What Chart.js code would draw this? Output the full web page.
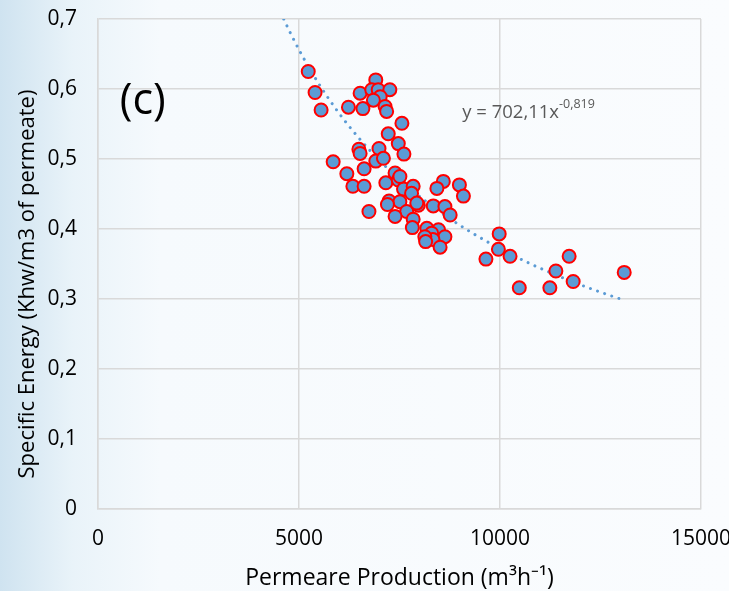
<!DOCTYPE html>
<html>
<head>
<meta charset="utf-8">
<script src="https://cdn.jsdelivr.net/npm/chart.js@4.4.0/dist/chart.umd.min.js"></script>
<style>
  html, body { margin: 0; padding: 0; }
  body {
    width: 729px; height: 591px; overflow: hidden;
    background: linear-gradient(to right, #cfe3f0 0%, #e9f3f9 10%, #f6fafd 22%, #fafcfe 100%);
  }
  #wrap { position: relative; width: 729px; height: 591px; }
</style>
</head>
<body>
<div id="wrap"><canvas id="myChart" width="729" height="591"></canvas></div>
<script>
// permeate production (m3/h)
const production = [5230, 5400, 5550, 6230, 6590, 6520, 6910, 6810, 6970, 7260,
  7020, 6850, 7140, 7180, 7560, 7220, 7470, 7610, 6490, 6520,
  6990, 6910, 7100, 5850, 6190, 6620, 6340, 6620, 6740, 7160,
  7390, 7470, 7600, 7840, 7800, 7240, 7510, 7970, 7680, 7390,
  7840, 7930, 8340, 8630, 8760, 8180, 8470, 8630, 8300, 8330,
  8130, 8510, 7820, 8590, 8430, 8990, 9090, 9980, 9960, 9650,
  10250, 10480, 11240, 11390, 11720, 11820, 13090, 7200, 7510, 8150];
// specific energy (kWh/m3)
const energy = [0.625, 0.595, 0.570, 0.574, 0.572, 0.594, 0.613, 0.599, 0.599, 0.599,
  0.589, 0.584, 0.575, 0.568, 0.551, 0.536, 0.522, 0.507, 0.514, 0.508,
  0.515, 0.497, 0.501, 0.496, 0.479, 0.486, 0.461, 0.461, 0.425, 0.466,
  0.480, 0.470, 0.457, 0.461, 0.451, 0.440, 0.439, 0.434, 0.425, 0.418,
  0.414, 0.437, 0.433, 0.432, 0.420, 0.401, 0.399, 0.389, 0.394, 0.385,
  0.389, 0.374, 0.402, 0.468, 0.458, 0.463, 0.447, 0.393, 0.371, 0.357,
  0.361, 0.316, 0.316, 0.340, 0.361, 0.325, 0.338, 0.435, 0.475, 0.382];
// power trend y = a * x^b, drawn between these x limits
const trendA = 702.11;
const trendB = -0.819;
const trendRange = [4620, 13090];
const xTicks = [0, 5000, 10000, 15000];
const yTicks = [0, 0.1, 0.2, 0.3, 0.4, 0.5, 0.6, 0.7];

const font = "'Open Sans', sans-serif";
const points = production.map((x, i) => ({x: x, y: energy[i]}));
const trend = [];
for (let k = 0; k <= 60; k++) {
  const x = trendRange[0] + (trendRange[1] - trendRange[0]) * k / 60;
  trend.push({x: x, y: trendA * Math.pow(x, trendB)});
}

// axis titles, panel letter and trend equation
const labels = {
  id: 'labels',
  afterDraw(chart) {
    const c = chart.ctx, xs = chart.scales.x, ys = chart.scales.y;
    const area = chart.chartArea;
    c.save();
    c.fillStyle = '#000';
    c.textAlign = 'center';
    c.textBaseline = 'middle';
    c.font = "23px " + font;
    c.fillText('Permeare Production (m³h⁻¹)', (area.left + area.right) / 2, chart.height - 13);
    c.save();
    c.translate(28, (area.top + area.bottom) / 2 + 20);
    c.rotate(-Math.PI / 2);
    c.font = "22px " + font;
    c.fillText('Specific Energy (Khw/m3 of permeate)', 0, 0);
    c.restore();
    c.textAlign = 'left';
    c.font = "43px " + font;
    c.fillText('(c)', xs.getPixelForValue(540), ys.getPixelForValue(0.582));
    c.fillStyle = '#595959';
    c.font = "18.5px " + font;
    const tx = xs.getPixelForValue(9060), ty = ys.getPixelForValue(0.566);
    const s = 'y = 702,11x';
    c.fillText(s, tx, ty);
    const w = c.measureText(s).width;
    c.font = "12.5px " + font;
    c.fillText('-0,819', tx + w, ty - 8);
    c.restore();
  }
};

const ctx = document.getElementById('myChart').getContext('2d');
const myChart = new Chart(ctx, {
  type: 'scatter',
  data: {
    datasets: [{
      label: 'trend',
      type: 'line',
      data: trend,
      borderColor: '#5b9bd5',
      borderWidth: 3,
      borderDash: [0.01, 7.5],
      borderCapStyle: 'round',
      pointRadius: 0,
      fill: false,
      order: 2
    }, {
      label: 'data',
      data: points,
      backgroundColor: '#5b9bd5',
      borderColor: '#ff0000',
      borderWidth: 2,
      pointRadius: 6.5,
      order: 1
    }]
  },
  options: {
    responsive: false,
    animation: false,
    layout: { padding: { top: 19, right: 28, left: 0, bottom: 0 } },
    plugins: { legend: { display: false }, tooltip: { enabled: false } },
    scales: {
      x: {
        type: 'linear',
        min: 0, max: 15000,
        afterBuildTicks(s) { s.ticks = xTicks.map(v => ({value: v})); },
        afterFit(s) { s.height = 82; s.paddingLeft = 0; s.paddingRight = 0; },
        grid: { color: '#d9d9d9', lineWidth: 1.5, drawTicks: false },
        border: { color: '#d9d9d9', width: 1.5 },
        ticks: {
          color: '#000', padding: 17, font: { family: font, size: 21 },
          callback: v => String(v)
        }
      },
      y: {
        min: 0, max: 0.7,
        afterBuildTicks(s) { s.ticks = yTicks.map(v => ({value: v})); },
        afterFit(s) { s.width = 98; s.paddingTop = 0; s.paddingBottom = 0; },
        grid: { color: '#d9d9d9', lineWidth: 1.5, drawTicks: false },
        border: { color: '#d9d9d9', width: 1.5 },
        ticks: {
          color: '#000', padding: 21, font: { family: font, size: 21 },
          callback: v => String(Math.round(v * 10) / 10).replace('.', ',')
        }
      }
    }
  },
  plugins: [labels]
});
</script>
</body>
</html>
